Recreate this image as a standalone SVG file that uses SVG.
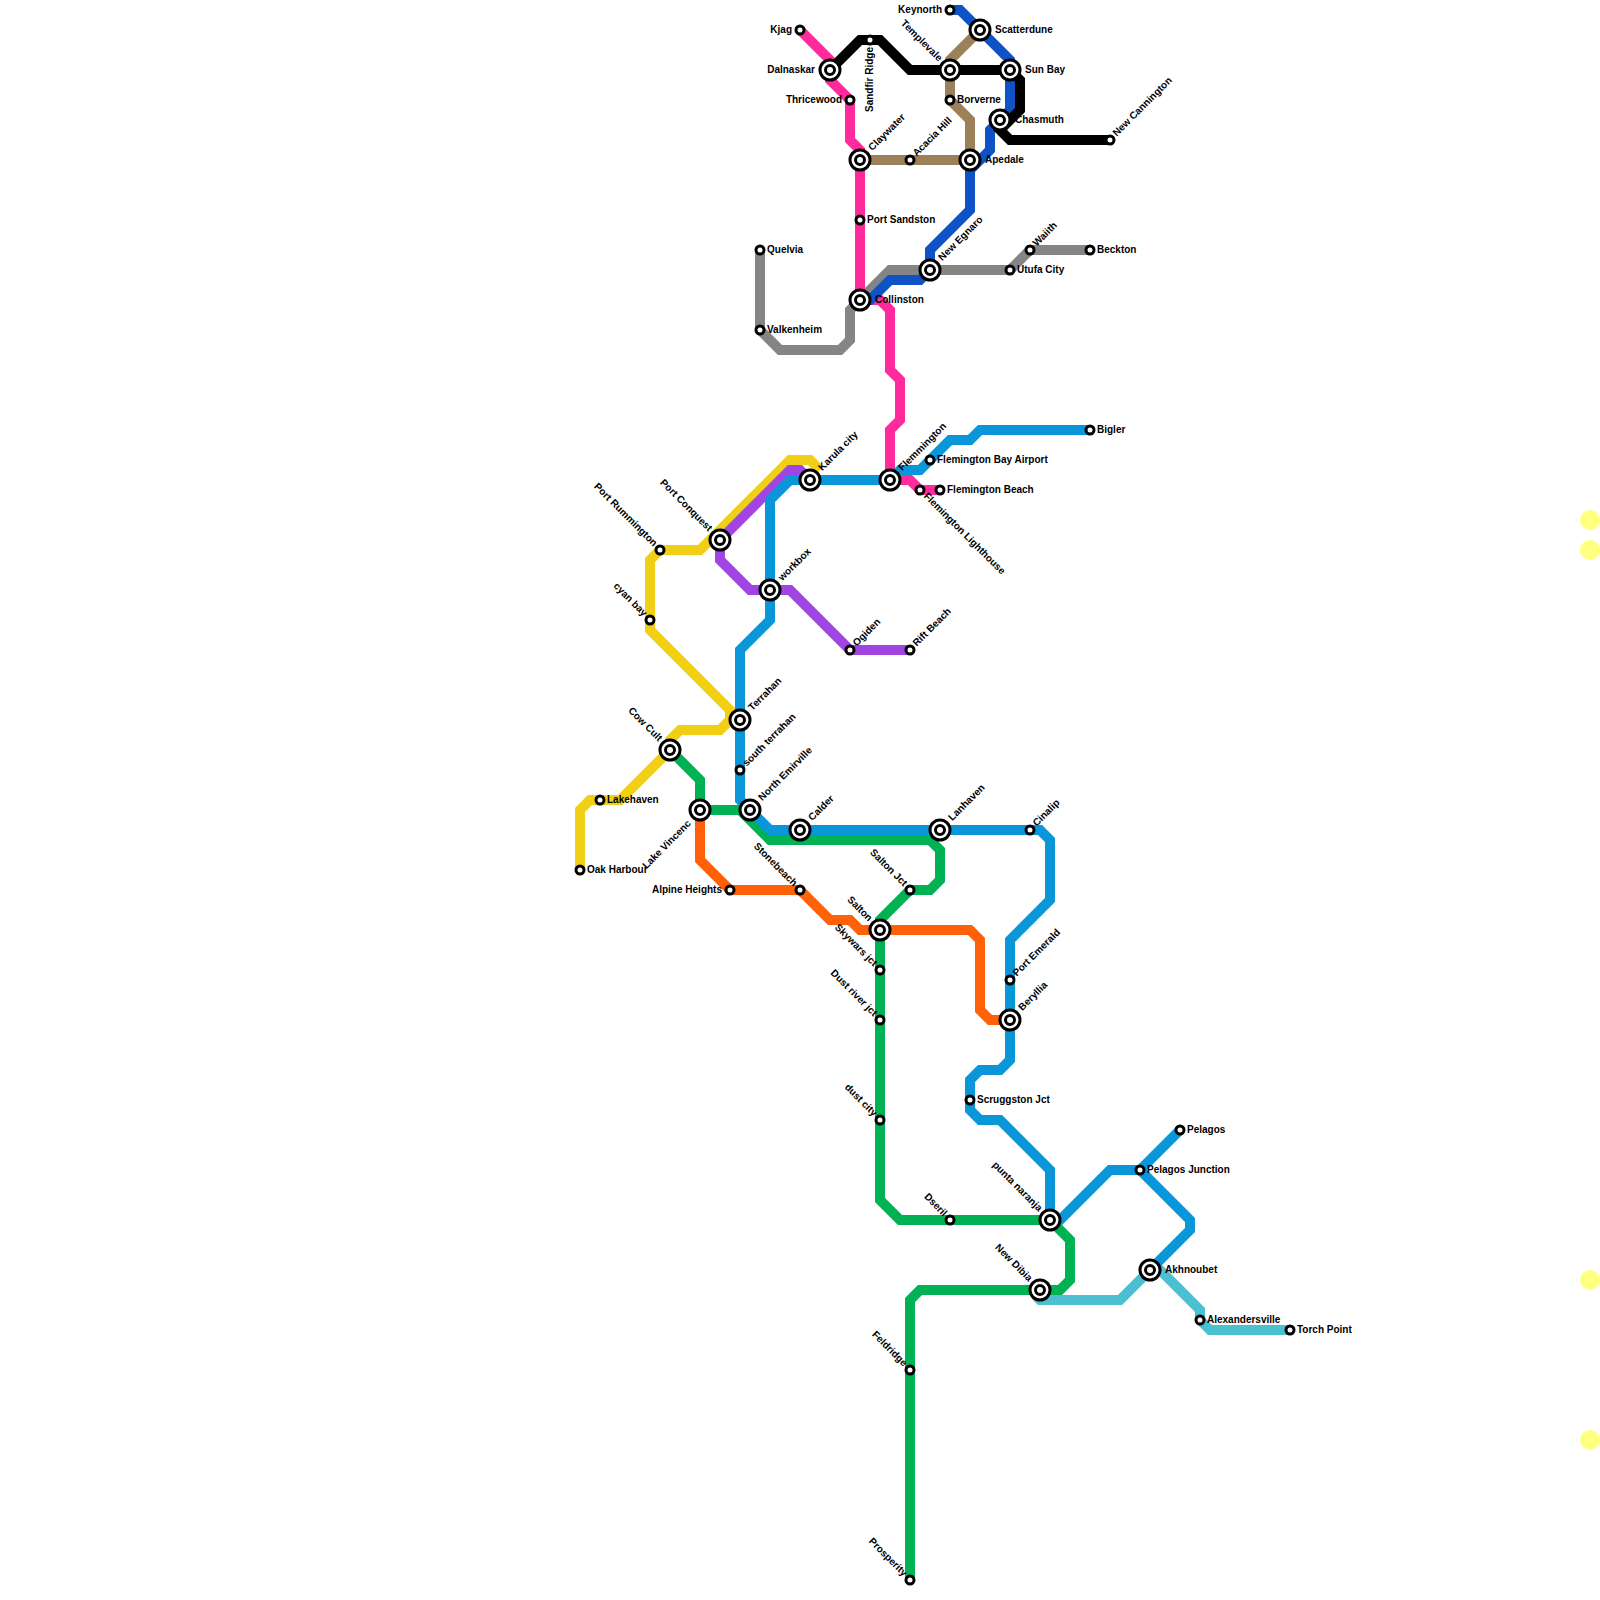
<svg xmlns="http://www.w3.org/2000/svg" width="1600" height="1600" viewBox="0 0 1600 1600">
<style>
.l{fill:none;stroke-width:10}
.s{fill:#fff;stroke:#000;stroke-width:3}
.o{fill:#fff;stroke:#000;stroke-width:3}
text{font-family:"Liberation Sans",Arial,sans-serif;font-size:10px;font-weight:bold;fill:#000}
.e{text-anchor:end}
</style>
<defs>
<g id="sm"><circle class="s" r="4"/></g>
<g id="ix"><circle class="o" r="10"/><circle class="s" r="4.5"/></g>
</defs>
<rect width="1600" height="1600" fill="#fff"/>
<g id="connectors">
<path class="l" stroke="#858585" d="M760,250V330L780,350H840L850,340V310L860,300L890,270H1010L1030,250H1090"/>
<path class="l" stroke="#f0cf15" d="M580,870V810L590,800H620L670,750L670,740L680,730H720L730,720V710L650,630V560L660,550H700L790,460H810L820,470"/>
<path class="l" stroke="#a044e2" d="M810,480L800,470H790L720,540V560L750,590H790L850,650H910"/>
<path class="l" stroke="#ff2a9c" d="M800,30L830,60V80L850,100V140L860,150V300H880L890,310V370L900,380V420L890,430V480H910L920,490H940"/>
<path class="l" stroke="#9b8059" d="M980,30L950,60V100L970,120V160H860"/>
<path class="l" stroke="#0f52c6" d="M950,10H960L1010,60V110L990,130V150L970,170V210L930,250V270L920,280H890L870,300H860"/>
<path class="l" stroke="#000" d="M830,70L860,40H880L910,70H1010L1020,80V110L1000,130L1010,140H1110"/>
<path class="l" stroke="#00b254" d="M670,750L700,780V810H740L770,840H930L940,850V880L930,890H910L880,920V1200L900,1220H1050L1070,1240V1280L1060,1290H920L910,1300V1580"/>
<path class="l" stroke="#ff6108" d="M700,810V860L730,890H800L830,920H850L860,930H970L980,940V1010L990,1020H1010"/>
<path class="l" stroke="#4bc0d0" d="M1036,1296L1040,1300H1120L1150,1270H1160L1200,1310V1320L1210,1330H1290"/>
<path class="l" stroke="#0a97d9" d="M1090,430H980L970,440H950L920,470H900L890,480H790L770,500V620L740,650V800L770,830H1040L1050,840V900L1010,940V1060L1000,1070H980L970,1080V1110L980,1120H1000L1050,1170V1220"/>
<path class="l" stroke="#0a97d9" d="M1050,1220H1060L1110,1170H1140L1190,1220V1230L1150,1270M1140,1170L1180,1130"/>
</g>
<g id="decor" fill="#ffff80">
<circle cx="1590" cy="520" r="10"/><circle cx="1590" cy="550" r="10"/><circle cx="1590" cy="1280" r="10"/><circle cx="1590" cy="1440" r="10"/>
</g>
<g id="kjag" transform="translate(800,30)"><use href="#sm"/><text class="e" x="-8" y="2.5">Kjag</text></g>
<g id="dalnaskar" transform="translate(830,70)"><use href="#ix"/><text class="e" x="-15" y="2.5">Dalnaskar</text></g>
<g id="thricewood" transform="translate(850,100)"><use href="#sm"/><text class="e" x="-8" y="2.5">Thricewood</text></g>
<g id="sandfir-ridge" transform="translate(870,40)"><use href="#sm"/><text class="e" transform="rotate(-90)" x="-7" y="2.5">Sandfir Ridge</text></g>
<g id="keynorth" transform="translate(950,10)"><use href="#sm"/><text class="e" x="-8" y="2.5">Keynorth</text></g>
<g id="scatterdune" transform="translate(980,30)"><use href="#ix"/><text x="15" y="2.5">Scatterdune</text></g>
<g id="templevale" transform="translate(950,70)"><use href="#ix"/><text class="e" transform="rotate(45)" x="-14" y="2.5">Templevale</text></g>
<g id="sun-bay" transform="translate(1010,70)"><use href="#ix"/><text x="15" y="2.5">Sun Bay</text></g>
<g id="borverne" transform="translate(950,100)"><use href="#sm"/><text x="7" y="2.5">Borverne</text></g>
<g id="chasmuth" transform="translate(1000,120)"><use href="#ix"/><text x="15" y="2.5">Chasmuth</text></g>
<g id="new-cannington" transform="translate(1110,140)"><use href="#sm"/><text transform="rotate(-45)" x="7" y="2.5">New Cannington</text></g>
<g id="claywater" transform="translate(860,160)"><use href="#ix"/><text transform="rotate(-45)" x="15" y="2.5">Claywater</text></g>
<g id="acacia-hill" transform="translate(910,160)"><use href="#sm"/><text transform="rotate(-45)" x="7" y="2.5">Acacia Hill</text></g>
<g id="apedale" transform="translate(970,160)"><use href="#ix"/><text x="15" y="2.5">Apedale</text></g>
<g id="port-sandston" transform="translate(860,220)"><use href="#sm"/><text x="7" y="2.5">Port Sandston</text></g>
<g id="quelvia" transform="translate(760,250)"><use href="#sm"/><text x="7" y="2.5">Quelvia</text></g>
<g id="valkenheim" transform="translate(760,330)"><use href="#sm"/><text x="7" y="2.5">Valkenheim</text></g>
<g id="collinston" transform="translate(860,300)"><use href="#ix"/><text x="15" y="2.5">Collinston</text></g>
<g id="new-egnaro" transform="translate(930,270)"><use href="#ix"/><text transform="rotate(-45)" x="15" y="2.5">New Egnaro</text></g>
<g id="utufa-city" transform="translate(1010,270)"><use href="#sm"/><text x="7" y="2.5">Utufa City</text></g>
<g id="waiith" transform="translate(1030,250)"><use href="#sm"/><text transform="rotate(-45)" x="7" y="2.5">Waiith</text></g>
<g id="beckton" transform="translate(1090,250)"><use href="#sm"/><text x="7" y="2.5">Beckton</text></g>
<g id="bigler" transform="translate(1090,430)"><use href="#sm"/><text x="7" y="2.5">Bigler</text></g>
<g id="flemington-bay-airport" transform="translate(930,460)"><use href="#sm"/><text x="7" y="2.5">Flemington Bay Airport</text></g>
<g id="flemington-beach" transform="translate(940,490)"><use href="#sm"/><text x="7" y="2.5">Flemington Beach</text></g>
<g id="flemington-lighthouse" transform="translate(920,490)"><use href="#sm"/><text transform="rotate(45)" x="7" y="2.5">Flemington Lighthouse</text></g>
<g id="flemmington" transform="translate(890,480)"><use href="#ix"/><text transform="rotate(-45)" x="15" y="2.5">Flemmington</text></g>
<g id="karula-city" transform="translate(810,480)"><use href="#ix"/><text transform="rotate(-45)" x="15" y="2.5">Karula city</text></g>
<g id="port-conquest" transform="translate(720,540)"><use href="#ix"/><text class="e" transform="rotate(45)" x="-14" y="2.5">Port Conquest</text></g>
<g id="port-rummington" transform="translate(660,550)"><use href="#sm"/><text class="e" transform="rotate(45)" x="-7" y="2.5">Port Rummington</text></g>
<g id="cyan-bay" transform="translate(650,620)"><use href="#sm"/><text class="e" transform="rotate(45)" x="-7" y="2.5">cyan bay</text></g>
<g id="workbox" transform="translate(770,590)"><use href="#ix"/><text transform="rotate(-45)" x="15" y="2.5">workbox</text></g>
<g id="ogiden" transform="translate(850,650)"><use href="#sm"/><text transform="rotate(-45)" x="7" y="2.5">Ogiden</text></g>
<g id="rift-beach" transform="translate(910,650)"><use href="#sm"/><text transform="rotate(-45)" x="7" y="2.5">Rift Beach</text></g>
<g id="terrahan" transform="translate(740,720)"><use href="#ix"/><text transform="rotate(-45)" x="15" y="2.5">Terrahan</text></g>
<g id="cow-cult" transform="translate(670,750)"><use href="#ix"/><text class="e" transform="rotate(45)" x="-14" y="2.5">Cow Cult</text></g>
<g id="south-terrahan" transform="translate(740,770)"><use href="#sm"/><text transform="rotate(-45)" x="7" y="2.5">south terrahan</text></g>
<g id="lakehaven" transform="translate(600,800)"><use href="#sm"/><text x="7" y="2.5">Lakehaven</text></g>
<g id="oak-harbour" transform="translate(580,870)"><use href="#sm"/><text x="7" y="2.5">Oak Harbour</text></g>
<g id="lake-vincenc" transform="translate(700,810)"><use href="#ix"/><text class="e" transform="rotate(-45)" x="-16" y="4">Lake Vincenc</text></g>
<g id="north-emirville" transform="translate(750,810)"><use href="#ix"/><text transform="rotate(-45)" x="15" y="2.5">North Emirville</text></g>
<g id="calder" transform="translate(800,830)"><use href="#ix"/><text transform="rotate(-45)" x="15" y="2.5">Calder</text></g>
<g id="lanhaven" transform="translate(940,830)"><use href="#ix"/><text transform="rotate(-45)" x="15" y="2.5">Lanhaven</text></g>
<g id="cinalip" transform="translate(1030,830)"><use href="#sm"/><text transform="rotate(-45)" x="7" y="2.5">Cinalip</text></g>
<g id="alpine-heights" transform="translate(730,890)"><use href="#sm"/><text class="e" x="-8" y="2.5">Alpine Heights</text></g>
<g id="stonebeach" transform="translate(800,890)"><use href="#sm"/><text class="e" transform="rotate(45)" x="-7" y="2.5">Stonebeach</text></g>
<g id="salton-jct" transform="translate(910,890)"><use href="#sm"/><text class="e" transform="rotate(45)" x="-7" y="2.5">Salton Jct</text></g>
<g id="salton" transform="translate(880,930)"><use href="#ix"/><text class="e" transform="rotate(45)" x="-14" y="2.5">Salton</text></g>
<g id="skywars-jct" transform="translate(880,970)"><use href="#sm"/><text class="e" transform="rotate(45)" x="-7" y="2.5">Skywars jct</text></g>
<g id="dust-river-jct" transform="translate(880,1020)"><use href="#sm"/><text class="e" transform="rotate(45)" x="-7" y="2.5">Dust river jct</text></g>
<g id="dust-city" transform="translate(880,1120)"><use href="#sm"/><text class="e" transform="rotate(45)" x="-7" y="2.5">dust city</text></g>
<g id="port-emerald" transform="translate(1010,980)"><use href="#sm"/><text transform="rotate(-45)" x="7" y="2.5">Port Emerald</text></g>
<g id="beryllia" transform="translate(1010,1020)"><use href="#ix"/><text transform="rotate(-45)" x="15" y="2.5">Beryllia</text></g>
<g id="scruggston-jct" transform="translate(970,1100)"><use href="#sm"/><text x="7" y="2.5">Scruggston Jct</text></g>
<g id="dseril" transform="translate(950,1220)"><use href="#sm"/><text class="e" transform="rotate(45)" x="-7" y="2.5">Dseril</text></g>
<g id="punta-naranja" transform="translate(1050,1220)"><use href="#ix"/><text class="e" transform="rotate(45)" x="-14" y="2.5">punta naranja</text></g>
<g id="pelagos" transform="translate(1180,1130)"><use href="#sm"/><text x="7" y="2.5">Pelagos</text></g>
<g id="pelagos-junction" transform="translate(1140,1170)"><use href="#sm"/><text x="7" y="2.5">Pelagos Junction</text></g>
<g id="akhnoubet" transform="translate(1150,1270)"><use href="#ix"/><text x="15" y="2.5">Akhnoubet</text></g>
<g id="new-dibia" transform="translate(1040,1290)"><use href="#ix"/><text class="e" transform="rotate(45)" x="-14" y="2.5">New Dibia</text></g>
<g id="alexandersville" transform="translate(1200,1320)"><use href="#sm"/><text x="7" y="2.5">Alexandersville</text></g>
<g id="torch-point" transform="translate(1290,1330)"><use href="#sm"/><text x="7" y="2.5">Torch Point</text></g>
<g id="feldridge" transform="translate(910,1370)"><use href="#sm"/><text class="e" transform="rotate(45)" x="-7" y="2.5">Feldridge</text></g>
<g id="prosperity" transform="translate(910,1580)"><use href="#sm"/><text class="e" transform="rotate(45)" x="-7" y="2.5">Prosperity</text></g>
</svg>
